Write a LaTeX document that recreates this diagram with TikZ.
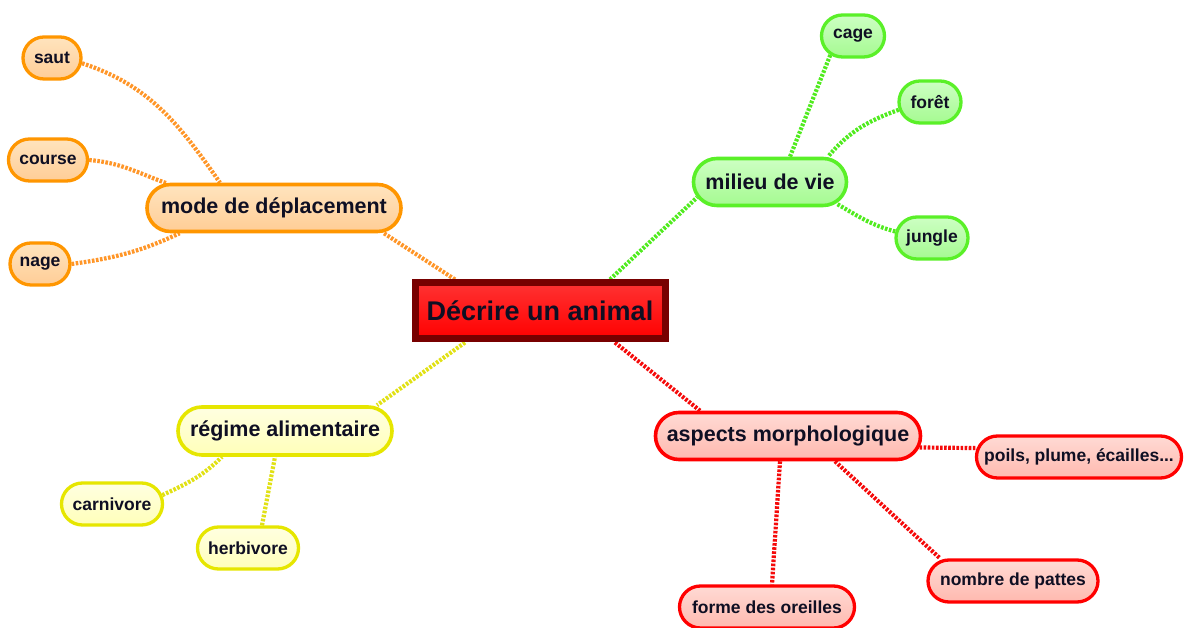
\documentclass[tikz,border=0pt]{standalone}
\usepackage{fontspec}
\setmainfont{Liberation Sans}
\usetikzlibrary{shapes.misc,backgrounds}
\definecolor{orB}{RGB}{255,150,0}
\definecolor{orF}{RGB}{255,205,150}
\definecolor{orT}{RGB}{255,228,190}
\definecolor{orL}{RGB}{255,150,40}
\definecolor{grB}{RGB}{90,240,40}
\definecolor{grF}{RGB}{165,250,145}
\definecolor{grT}{RGB}{205,255,195}
\definecolor{grL}{RGB}{80,235,30}
\definecolor{yeB}{RGB}{230,230,0}
\definecolor{yeF}{RGB}{255,255,185}
\definecolor{yeT}{RGB}{255,255,225}
\definecolor{yeL}{RGB}{225,225,20}
\definecolor{reB}{RGB}{255,0,0}
\definecolor{reF}{RGB}{255,185,175}
\definecolor{reT}{RGB}{255,218,212}
\definecolor{reL}{RGB}{245,10,10}
\definecolor{ceB}{RGB}{120,0,0}
\definecolor{ceT}{RGB}{255,50,50}
\definecolor{txt}{RGB}{15,15,35}
\begin{document}
\begin{tikzpicture}[x=1pt,y=1pt,
  box/.style={rounded rectangle, inner sep=0pt, text=txt, font=\bfseries\fontsize{17.5}{20}\selectfont},
  leaf/.style={box, line width=3.3pt, minimum height=42pt},
  mid/.style={box, line width=3.6pt, minimum height=47pt, font=\bfseries\fontsize{21.5}{24}\selectfont},
  orbox/.style={draw=orB, top color=orT, bottom color=orF},
  grbox/.style={draw=grB, top color=grT, bottom color=grF},
  yebox/.style={draw=yeB, top color=yeT, bottom color=yeF},
  rebox/.style={draw=reB, top color=reT, bottom color=reF},
  centerbox/.style={rectangle, draw=ceB, line width=7pt, minimum width=250pt, minimum height=56pt, top color=ceT, bottom color=red, inner sep=0pt, text=txt, font=\bfseries\fontsize{27}{30}\selectfont},
  link/.style={line width=4.2pt, dash pattern=on 2.6pt off 1.5pt}
]
\useasboundingbox (0,0) rectangle (1184,628);

\node[centerbox] (c) at (540,317) {Décrire un animal};

\node[mid,orbox,minimum width=254pt] (mode) at (274,420) {mode de déplacement};
\node[mid,grbox,minimum width=153pt] (milieu) at (770,446) {milieu de vie};
\node[mid,rebox,minimum width=265pt] (aspects) at (788,192) {aspects morphologique};
\node[mid,yebox,minimum width=214pt,minimum height=48pt] (regime) at (285,197) {régime alimentaire};

\node[leaf,orbox,minimum width=58pt] (saut) at (52,570) {saut};
\node[leaf,orbox,minimum width=79pt] (course) at (48,468) {course};
\node[leaf,orbox,minimum width=60pt] (nage) at (40,364) {nage};
\node[leaf,grbox,minimum width=63pt] (cage) at (853,592) {cage};
\node[leaf,grbox,minimum width=62pt] (foret) at (930,526) {forêt};
\node[leaf,grbox,minimum width=72pt] (jungle) at (932,390) {jungle};
\node[leaf,rebox,minimum width=205pt] (poils) at (1079,171) {poils, plume, écailles...};
\node[leaf,rebox,minimum width=170pt] (nombre) at (1013,47) {nombre de pattes};
\node[leaf,rebox,minimum width=175pt] (forme) at (767,21) {forme des oreilles};
\node[leaf,yebox,minimum width=101pt] (carnivore) at (112,124) {carnivore};
\node[leaf,yebox,minimum width=101pt] (herbivore) at (248,80) {herbivore};

\begin{scope}[on background layer]
\fill[white] (0,0) rectangle (1184,628);
\draw[link,orL] ([xshift=-85pt]c.north) -- ([xshift=110pt]mode.south);
\draw[link,grL] ([xshift=70pt]c.north) -- (milieu.192);
\draw[link,yeL] ([xshift=-75pt]c.south) -- ([xshift=92pt]regime.north);
\draw[link,reL] ([xshift=75pt]c.south) -- ([xshift=-88pt]aspects.north);

\draw[link,orL] (saut.-10) to[out=-18,in=125] ([xshift=-54pt]mode.north);
\draw[link,orL] (course.east) to[out=-5,in=160] (mode.167);
\draw[link,orL] (nage.east) to[out=8,in=205] (mode.195);

\draw[link,grL] (cage.220) -- ([xshift=20pt]milieu.north);
\draw[link,grL] (foret.194) to[out=200,in=50] ([xshift=58pt]milieu.north);
\draw[link,grL] (jungle.170) to[out=165,in=-30] (milieu.-18);

\draw[link,yeL] (carnivore.10) to[out=25,in=-135] ([xshift=-63pt]regime.south);
\draw[link,yeL] ([xshift=14pt]herbivore.north) -- ([xshift=-10pt]regime.south);

\draw[link,reL] (aspects.-5) -- (poils.175);
\draw[link,reL] ([xshift=47pt]aspects.south) -- ([xshift=-73pt]nombre.north);
\draw[link,reL] ([xshift=-8pt]aspects.south) -- ([xshift=5pt]forme.north);
\end{scope}
\end{tikzpicture}
\end{document}
